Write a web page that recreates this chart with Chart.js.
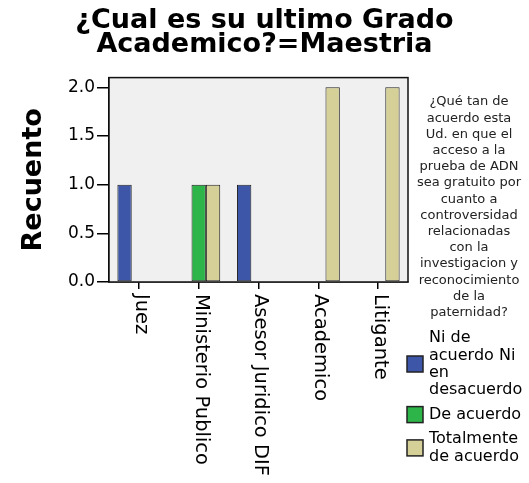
<!DOCTYPE html>
<html>
<head>
<meta charset="utf-8">
<script src="https://cdn.jsdelivr.net/npm/chart.js@4"></script>
<style>
  body { margin: 0; background: #fff; }
  canvas { display: block; }
</style>
</head>
<body>
<canvas id="chart" width="529" height="483"></canvas>
<script>
const titleLines = ['¿Cual es su ultimo Grado', 'Academico?=Maestria'];
const categories = ['Juez', 'Ministerio Publico', 'Asesor Juridico DIF', 'Academico', 'Litigante'];
const niDeAcuerdo = [1, 0, 1, 0, 0];
const deAcuerdo = [0, 1, 0, 0, 0];
const totalmente = [0, 1, 0, 2, 2];
const seriesNames = ['Ni de\nacuerdo Ni\nen\ndesacuerdo', 'De acuerdo', 'Totalmente\nde acuerdo'];
const legendTitle = ['¿Qué tan de', 'acuerdo esta', 'Ud. en que el', 'acceso a la', 'prueba de ADN',
  'sea gratuito por', 'cuanto a', 'controversidad', 'relacionadas', 'con la',
  'investigacion y', 'reconocimiento', 'de la', 'paternidad?'];
const yTickValues = [0, 0.5, 1, 1.5, 2];

const colors = ['#3d56a8', '#2db54a', '#d5cf98'];
const font = 'DejaVu Sans';

// grey plot background + frame
const plotFrame = {
  id: 'plotFrame',
  beforeDatasetsDraw(chart) {
    const { ctx, chartArea: a } = chart;
    ctx.save();
    ctx.fillStyle = '#f0f0f0';
    ctx.fillRect(a.left, a.top, a.right - a.left, a.bottom - a.top);
    ctx.restore();
  },
  afterDraw(chart) {
    const { ctx, chartArea: a } = chart;
    ctx.save();
    ctx.strokeStyle = '#111';
    ctx.lineWidth = 1.5;
    ctx.strokeRect(a.left, a.top, a.right - a.left, a.bottom - a.top);
    ctx.restore();
  }
};

// x labels rotated clockwise, reading top to bottom
const xLabels = {
  id: 'xLabels',
  afterDraw(chart) {
    const { ctx, chartArea: a } = chart;
    const xs = chart.scales.x;
    ctx.save();
    ctx.fillStyle = '#000';
    ctx.font = '19.5px "' + font + '"';
    ctx.textAlign = 'left';
    ctx.textBaseline = 'middle';
    chart.data.labels.forEach((lab, i) => {
      ctx.save();
      ctx.translate(xs.getPixelForTick(i) + 2, a.bottom + 12);
      ctx.rotate(Math.PI / 2);
      ctx.fillText(lab, 0, 0);
      ctx.restore();
    });
    ctx.restore();
  }
};

// legend at the right with the long question as title
const sideLegend = {
  id: 'sideLegend',
  afterDraw(chart) {
    const ctx = chart.ctx;
    ctx.save();
    ctx.fillStyle = '#222';
    ctx.font = '13px "' + font + '"';
    ctx.textAlign = 'center';
    ctx.textBaseline = 'middle';
    legendTitle.forEach((t, i) => ctx.fillText(t, 469, 102 + i * 16.2));

    ctx.font = '16px "' + font + '"';
    ctx.textAlign = 'left';
    const lh = 17.3;
    let y = 329.4;
    chart.data.datasets.forEach((ds, i) => {
      const lines = seriesNames[i].split('\n');
      const h = Math.max(lines.length * lh, 26);
      const mid = y + h / 2;
      ctx.fillStyle = ds.backgroundColor;
      ctx.fillRect(407, mid - 8, 16, 16);
      ctx.strokeStyle = '#222';
      ctx.lineWidth = 1.5;
      ctx.strokeRect(407, mid - 8, 16, 16);
      ctx.fillStyle = '#000';
      lines.forEach((l, k) => ctx.fillText(l, 429, mid - (lines.length - 1) * lh / 2 + k * lh));
      y += h + 3;
    });
    ctx.restore();
  }
};

const mkSet = (i, data) => ({
  label: seriesNames[i].replace(/\n/g, ' '),
  data: data,
  backgroundColor: colors[i],
  borderColor: '#222',
  borderWidth: 1,
  borderSkipped: false,
  categoryPercentage: 0.72,
  barPercentage: 1.0
});

new Chart(document.getElementById('chart'), {
  type: 'bar',
  data: {
    labels: categories,
    datasets: [mkSet(0, niDeAcuerdo), mkSet(1, deAcuerdo), mkSet(2, totalmente)]
  },
  options: {
    responsive: false,
    animation: false,
    plugins: {
      legend: { display: false },
      tooltip: { enabled: false },
      title: {
        display: true,
        text: titleLines,
        color: '#000',
        font: { family: font, size: 27, weight: 'bold', lineHeight: 0.9 },
        padding: { top: 9, bottom: 20 }
      }
    },
    scales: {
      x: {
        afterFit: s => { s.height = 201; },
        grid: { display: true, drawOnChartArea: false, offset: false, tickLength: 7, color: '#000', lineWidth: 1.5 },
        border: { display: true, color: '#000', width: 1.5 },
        ticks: { color: 'transparent', font: { family: font, size: 12 } }
      },
      y: {
        min: 0,
        max: 2.1,
        afterFit: s => { s.width = 109; },
        afterBuildTicks: s => { s.ticks = yTickValues.map(v => ({ value: v })); },
        grid: { display: true, drawOnChartArea: false, tickLength: 12, color: '#000', lineWidth: 1.5 },
        border: { display: true, color: '#000', width: 1.5 },
        ticks: {
          color: '#000',
          padding: 2,
          font: { family: font, size: 17 },
          callback: v => v.toFixed(1)
        },
        title: {
          display: true,
          text: 'Recuento',
          color: '#000',
          font: { family: font, size: 27, weight: 'bold', lineHeight: 1.2 },
          padding: { top: 18, bottom: 0 }
        }
      },
      // empty right-hand axis that only keeps room for the legend
      side: {
        type: 'linear',
        position: 'right',
        afterFit: s => { s.width = 121; },
        grid: { display: false },
        border: { display: false },
        ticks: { display: false }
      }
    }
  },
  plugins: [plotFrame, xLabels, sideLegend]
});
</script>
</body>
</html>
